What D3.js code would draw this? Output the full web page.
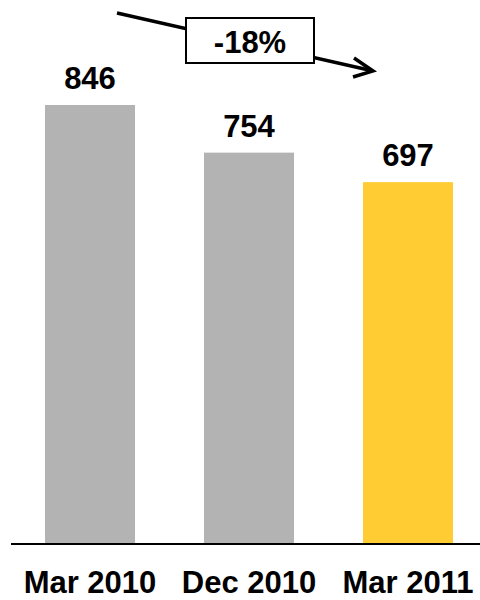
<!DOCTYPE html>
<html>
<head>
<meta charset="utf-8">
<script src="https://cdn.jsdelivr.net/npm/d3@7"></script>
<style>
  body { margin: 0; background: #fff; }
  text { font-family: "Liberation Sans", Arial, sans-serif; font-weight: bold; fill: #000; }
</style>
</head>
<body>
<div id="chart"></div>
<script>
var categories = ["Mar 2010", "Dec 2010", "Mar 2011"]
var values = [846, 754, 697]
var barColors = ["#b3b3b3", "#b3b3b3", "#ffcc33"]
var changeLabel = "-18%"

var width = 480,
  height = 600,
  baseline = 543

var svg = d3.select("#chart")
  .append("svg")
  .attr("width", width)
  .attr("height", height)

var x = d3.scaleBand()
  .domain(categories)
  .range([45, 453])
  .paddingInner(0.434)
  .paddingOuter(0)

var y = d3.scaleLinear()
  .domain([0, d3.max(values)])
  .range([baseline, 105])

var data = categories.map(function(c, i) { return {cat: c, val: values[i], color: barColors[i]} })

svg.selectAll(".bar")
  .data(data)
  .enter()
  .append("rect")
  .attr("class", "bar")
  .attr("x", function(d) { return x(d.cat) })
  .attr("width", x.bandwidth())
  .attr("y", function(d) { return y(d.val) })
  .attr("height", function(d) { return baseline - y(d.val) })
  .attr("fill", function(d) { return d.color })

// value labels
svg.selectAll(".val")
  .data(data)
  .enter()
  .append("text")
  .attr("class", "val")
  .attr("x", function(d) { return x(d.cat) + x.bandwidth() / 2 })
  .attr("y", function(d) { return y(d.val) - 16 })
  .attr("text-anchor", "middle")
  .style("font-size", "31px")
  .text(function(d) { return d.val })

// baseline
svg.append("line")
  .attr("x1", 11).attr("x2", 480)
  .attr("y1", baseline + 1).attr("y2", baseline + 1)
  .attr("stroke", "#000")
  .attr("stroke-width", 2)

// category labels
svg.selectAll(".cat")
  .data(categories)
  .enter()
  .append("text")
  .attr("class", "cat")
  .attr("x", function(d) { return x(d) + x.bandwidth() / 2 })
  .attr("y", 593)
  .attr("text-anchor", "middle")
  .style("font-size", "31px")
  .text(function(d) { return d })

// change arrow
var ax1 = 117, ay1 = 13, ax2 = 373, ay2 = 71
svg.append("line")
  .attr("x1", ax1).attr("y1", ay1)
  .attr("x2", ax2 - 2).attr("y2", ay2 - 0.5)
  .attr("stroke", "#000")
  .attr("stroke-width", 3.5)

svg.append("path")
  .attr("d", "M" + (ax2 - 19) + "," + (ay2 - 13) + "L" + ax2 + "," + ay2 + "L" + (ax2 - 20) + "," + (ay2 + 6))
  .attr("fill", "none")
  .attr("stroke", "#000")
  .attr("stroke-width", 3.5)
  .attr("stroke-linejoin", "miter")

svg.append("rect")
  .attr("x", 186).attr("y", 18)
  .attr("width", 128).attr("height", 45)
  .attr("fill", "#fff")
  .attr("stroke", "#000")
  .attr("stroke-width", 2)

svg.append("text")
  .attr("x", 250)
  .attr("y", 53)
  .attr("text-anchor", "middle")
  .style("font-size", "31px")
  .text(changeLabel)
</script>
</body>
</html>
